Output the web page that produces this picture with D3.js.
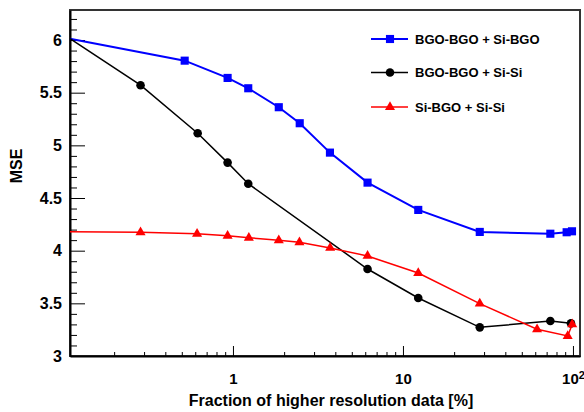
<!DOCTYPE html>
<html>
<head>
<meta charset="utf-8">
<script src="https://cdn.jsdelivr.net/npm/d3@7"></script>
<style>
    body { margin: 0; background: #fff; }
    svg { display: block; font-family: "Liberation Sans", Arial, sans-serif; font-weight: bold; }
</style>
</head>
<body>
<div id="chart"></div>
<script>
// Series names (legend order)
const seriesNames = ["BGO-BGO + Si-BGO", "BGO-BGO + Si-Si", "Si-BGO + Si-Si"];

// Fraction of higher resolution data [%] for each series (first point sits on the axis edge)
const blueX = [0.11, 0.52, 0.93, 1.23, 1.86, 2.47, 3.72, 6.19, 12.3, 28.3, 73.6, 91.8, 98.7];
const blueY = [6.013, 5.804, 5.640, 5.542, 5.362, 5.21, 4.931, 4.646, 4.387, 4.178, 4.161, 4.175, 4.184];

const blackX = [0.11, 0.286, 0.62, 0.93, 1.23, 6.19, 12.3, 28.3, 73.6, 97.3];
const blackY = [6.013, 5.571, 5.115, 4.836, 4.636, 3.826, 3.551, 3.272, 3.332, 3.31];

const redX = [0.11, 0.286, 0.615, 0.93, 1.24, 1.86, 2.46, 3.73, 6.19, 12.3, 28.3, 61.5, 93.1, 99];
const redY = [4.18, 4.175, 4.161, 4.142, 4.123, 4.098, 4.08, 4.026, 3.95, 3.788, 3.497, 3.254, 3.19, 3.30];

// Axis ticks
const yMajorTicks = [3, 3.5, 4, 4.5, 5, 5.5, 6];
const yMinorTicks = d3.range(30, 63).map(d => d / 10);
const xMajorTicks = [1, 10, 100];
const xMinorTicks = [0.2, 0.3, 0.4, 0.5, 0.6, 0.7, 0.8, 0.9,
                     2, 3, 4, 5, 6, 7, 8, 9,
                     20, 30, 40, 50, 60, 70, 80, 90];

const width = 584, height = 412;
const frame = { left: 70, right: 580, top: 10, bottom: 356 };

const svg = d3.select("#chart")
    .append("svg")
    .attr("width", width)
    .attr("height", height);

// Scales
const x = d3.scaleLog()
    .domain([0.11, 110])
    .range([frame.left, frame.right]);

const y = d3.scaleLinear()
    .domain([3, 6.285])
    .range([frame.bottom, frame.top]);

// Frame
svg.append("rect")
    .attr("x", frame.left)
    .attr("y", frame.top)
    .attr("width", frame.right - frame.left)
    .attr("height", frame.bottom - frame.top)
    .attr("fill", "none")
    .attr("stroke", "#333")
    .attr("stroke-width", 2);

// Y axis (ticks pointing inside)
const yAxis = svg.append("g")
    .attr("transform", `translate(${frame.left},0)`)
    .call(d3.axisLeft(y)
        .tickValues(yMajorTicks)
        .tickFormat(d3.format("~g"))
        .tickSizeInner(-15)
        .tickSizeOuter(0)
        .tickPadding(8));

yAxis.selectAll(".tick text")
    .attr("font-size", 16)
    .attr("font-family", "Liberation Sans, Arial, sans-serif")
    .attr("font-weight", "bold")
    .attr("fill", "#000");

svg.append("g")
    .attr("transform", `translate(${frame.left},0)`)
    .call(d3.axisLeft(y)
        .tickValues(yMinorTicks.filter(v => !yMajorTicks.some(m => Math.abs(m - v) < 1e-9)))
        .tickFormat("")
        .tickSizeInner(-7)
        .tickSizeOuter(0))
    .call(g => g.select(".domain").remove());

// X axis
const xAxis = svg.append("g")
    .attr("transform", `translate(0,${frame.bottom})`)
    .call(d3.axisBottom(x)
        .tickValues(xMajorTicks)
        .tickFormat(d => d === 100 ? "10" : String(d))
        .tickSizeInner(-10)
        .tickSizeOuter(0)
        .tickPadding(17));

xAxis.selectAll(".tick text")
    .attr("font-size", 15)
    .attr("font-family", "Liberation Sans, Arial, sans-serif")
    .attr("font-weight", "bold")
    .attr("fill", "#000");

// 10^2 label
xAxis.selectAll(".tick text")
    .filter(d => d === 100)
    .append("tspan")
    .attr("dy", "-0.45em")
    .attr("font-size", 11)
    .text("2");

svg.append("g")
    .attr("transform", `translate(0,${frame.bottom})`)
    .call(d3.axisBottom(x)
        .tickValues(xMinorTicks)
        .tickFormat("")
        .tickSizeInner(-4)
        .tickSizeOuter(0))
    .call(g => g.select(".domain").remove());

svg.selectAll(".domain, .tick line")
    .attr("stroke", "#000");
svg.selectAll(".domain")
    .attr("stroke-width", 2);

// Axis titles
svg.append("text")
    .attr("x", 331)
    .attr("y", 406)
    .attr("text-anchor", "middle")
    .attr("font-size", 16)
    .text("Fraction of higher resolution data [%]");

svg.append("text")
    .attr("transform", "translate(22,166) rotate(-90)")
    .attr("text-anchor", "middle")
    .attr("font-size", 16)
    .text("MSE");

// Series
const series = [
    { name: seriesNames[0], xs: blueX, ys: blueY, color: "#0000ff", symbol: d3.symbolSquare, size: 66, width: 2 },
    { name: seriesNames[1], xs: blackX, ys: blackY, color: "#000000", symbol: d3.symbolCircle, size: 58, width: 1.5 },
    { name: seriesNames[2], xs: redX, ys: redY, color: "#ff0000", symbol: d3.symbolTriangle, size: 44, width: 1.5 }
];

const line = d3.line()
    .x(d => x(d[0]))
    .y(d => y(d[1]));

series.forEach(s => {
    const pts = s.xs.map((v, i) => [v, s.ys[i]]);

    svg.append("path")
        .datum(pts)
        .attr("fill", "none")
        .attr("stroke", s.color)
        .attr("stroke-width", s.width)
        .attr("d", line);

    // No marker on the point that lies on the axis edge
    svg.append("g")
        .selectAll("path")
        .data(pts.filter(p => p[0] > x.domain()[0]))
        .enter()
        .append("path")
        .attr("transform", d => `translate(${x(d[0])},${y(d[1])})`)
        .attr("d", d3.symbol().type(s.symbol).size(s.size))
        .attr("fill", s.color);
});

// Legend
const legend = svg.append("g")
    .selectAll("g")
    .data(series)
    .enter()
    .append("g")
    .attr("transform", (d, i) => `translate(0,${[39, 72.5, 107][i]})`);

legend.append("line")
    .attr("x1", 371)
    .attr("x2", 408)
    .attr("stroke", d => d.color)
    .attr("stroke-width", d => d.width);

legend.append("path")
    .attr("transform", "translate(390,0)")
    .attr("d", d => d3.symbol().type(d.symbol).size(d.size)())
    .attr("fill", d => d.color);

legend.append("text")
    .attr("x", 415)
    .attr("dy", "0.36em")
    .attr("font-size", 13)
    .text(d => d.name);
</script>
</body>
</html>
